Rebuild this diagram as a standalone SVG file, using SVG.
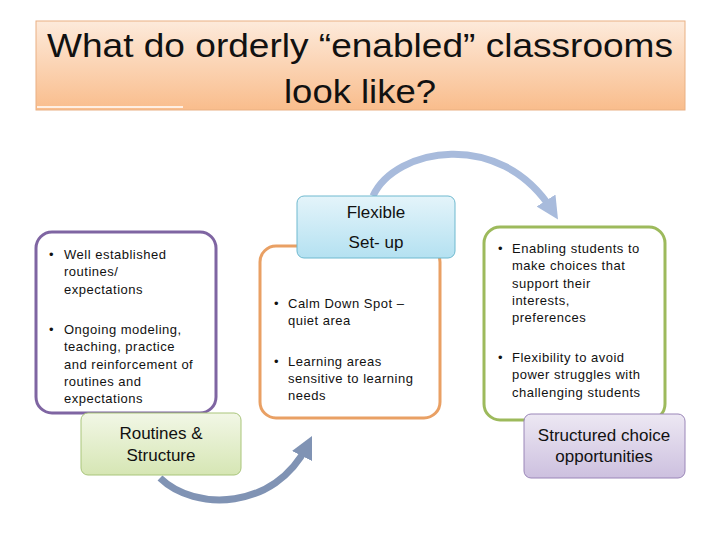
<svg xmlns="http://www.w3.org/2000/svg" width="720" height="540" viewBox="0 0 720 540">
<defs>
<linearGradient id="gTitle" x1="0" y1="0" x2="0" y2="1"><stop offset="0" stop-color="#fdeadb"/><stop offset="1" stop-color="#f9bd8c"/></linearGradient>
<linearGradient id="gGreen" x1="0" y1="0" x2="0" y2="1"><stop offset="0" stop-color="#f2f7e6"/><stop offset="1" stop-color="#d6e6b4"/></linearGradient>
<linearGradient id="gBlue" x1="0" y1="0" x2="0" y2="1"><stop offset="0" stop-color="#e4f4fa"/><stop offset="1" stop-color="#b4e1f1"/></linearGradient>
<linearGradient id="gPurple" x1="0" y1="0" x2="0" y2="1"><stop offset="0" stop-color="#ede8f3"/><stop offset="1" stop-color="#cdc0df"/></linearGradient>
<marker id="ahTop" viewBox="0 0 10 10" refX="5" refY="5" markerWidth="3.2" markerHeight="3.2" orient="auto" markerUnits="strokeWidth"><path d="M0,0 L10,5 L0,10 Z" fill="#a8bbdc"/></marker>
<marker id="ahBot" viewBox="0 0 10 10" refX="5" refY="5" markerWidth="3.2" markerHeight="3.2" orient="auto" markerUnits="strokeWidth"><path d="M0,0 L10,5 L0,10 Z" fill="#8093b4"/></marker>
</defs>
<style>
text{font-family:"Liberation Sans",Arial,sans-serif;fill:#111}
.t{font-size:34px;text-anchor:middle}
.b{font-size:13px;letter-spacing:0.5px}
.l{font-size:17px;text-anchor:middle}
</style>
<rect width="720" height="540" fill="#fff"/>
<g id="title">
<rect x="36" y="21" width="649" height="89" fill="url(#gTitle)" stroke="#e9b083" stroke-width="1"/>
<line x1="37" y1="107" x2="183" y2="107" stroke="#fff" stroke-width="1.5"/>
<text class="t" x="360" y="57" textLength="626" lengthAdjust="spacingAndGlyphs">What do orderly “enabled” classrooms</text>
<text class="t" x="360" y="103" textLength="152" lengthAdjust="spacingAndGlyphs">look like?</text>
</g>
<g id="connectors" fill="none">
<path d="M373,196 C395,148 500,128 552,210" stroke="#a8bbdc" stroke-width="7" marker-end="url(#ahTop)"/>
<path d="M160,478 C195,512 275,510 307,446" stroke="#8093b4" stroke-width="7" marker-end="url(#ahBot)"/>
</g>
<g id="box-left">
<rect x="36" y="232" width="180" height="181" rx="16" fill="#fff" stroke="#7f65a2" stroke-width="3"/>
<text class="b"><tspan x="49" y="259">•</tspan><tspan x="64" y="259">Well established</tspan><tspan x="64" y="276">routines/</tspan><tspan x="64" y="294">expectations</tspan></text>
<text class="b"><tspan x="49" y="334">•</tspan><tspan x="64" y="334">Ongoing modeling,</tspan><tspan x="64" y="351">teaching, practice</tspan><tspan x="64" y="369">and reinforcement of</tspan><tspan x="64" y="386">routines and</tspan><tspan x="64" y="403">expectations</tspan></text>
</g>
<g id="routines">
<rect x="81" y="413" width="160" height="62" rx="7" fill="url(#gGreen)" stroke="#a9c57b" stroke-width="1"/>
<text class="l" x="161" y="439">Routines &amp;</text>
<text class="l" x="161" y="461">Structure</text>
</g>
<g id="box-middle">
<rect x="260" y="246" width="180" height="172" rx="16" fill="#fff" stroke="#e9a064" stroke-width="3"/>
<text class="b"><tspan x="274" y="308">•</tspan><tspan x="288" y="308">Calm Down Spot –</tspan><tspan x="288" y="325">quiet area</tspan></text>
<text class="b"><tspan x="274" y="366">•</tspan><tspan x="288" y="366">Learning areas</tspan><tspan x="288" y="383">sensitive to learning</tspan><tspan x="288" y="400">needs</tspan></text>
</g>
<g id="flexible">
<rect x="297" y="196" width="158" height="62" rx="7" fill="url(#gBlue)" stroke="#6fb9cf" stroke-width="1"/>
<text class="l" x="376" y="218">Flexible</text>
<text class="l" x="376" y="248">Set- up</text>
</g>
<g id="box-right">
<rect x="484" y="227" width="181" height="193" rx="16" fill="#fff" stroke="#9dba5c" stroke-width="3"/>
<text class="b"><tspan x="498" y="253">•</tspan><tspan x="512" y="253">Enabling students to</tspan><tspan x="512" y="270">make choices that</tspan><tspan x="512" y="288">support their</tspan><tspan x="512" y="305">interests,</tspan><tspan x="512" y="322">preferences</tspan></text>
<text class="b"><tspan x="498" y="362">•</tspan><tspan x="512" y="362">Flexibility to avoid</tspan><tspan x="512" y="379">power struggles with</tspan><tspan x="512" y="397">challenging students</tspan></text>
</g>
<g id="structured">
<rect x="524" y="414" width="161" height="64" rx="7" fill="url(#gPurple)" stroke="#9a86b8" stroke-width="1"/>
<text class="l" x="604" y="441">Structured choice</text>
<text class="l" x="604" y="462">opportunities</text>
</g>
</svg>
